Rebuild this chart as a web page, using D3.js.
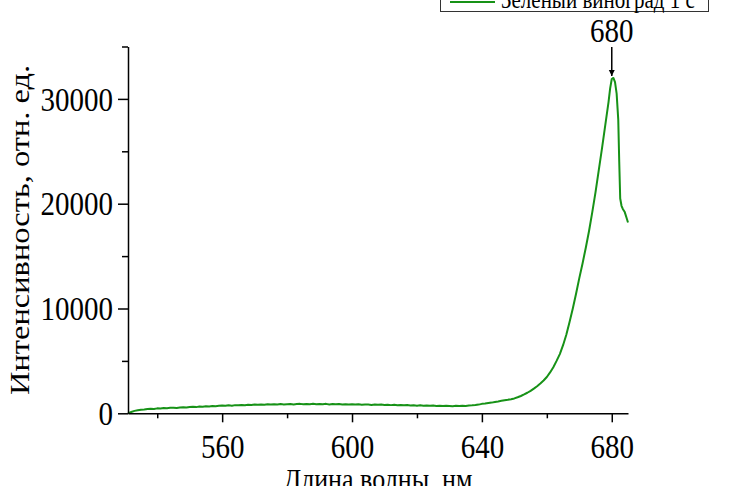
<!DOCTYPE html>
<html>
<head>
<meta charset="utf-8">
<script src="https://cdn.jsdelivr.net/npm/d3@7"></script>
<style>
  body { margin: 0; background: #fff; }
  svg { display: block; }
  svg text { font-family: "Liberation Serif", "Times New Roman", serif; }
</style>
</head>
<body>
<div id="chart"></div>
<script>
// spectrum values
const wavelength = [
  531, 532, 533, 534, 535, 536, 537, 538, 539, 540, 541, 542, 543, 544, 545, 546, 547, 548, 549, 550,
  551, 552, 553, 554, 555, 556, 557, 558, 559, 560, 561, 562, 563, 564, 565, 566, 567, 568, 569, 570,
  571, 572, 573, 574, 575, 576, 577, 578, 579, 580, 581, 582, 583, 584, 585, 586, 587, 588, 589, 590,
  591, 592, 593, 594, 595, 596, 597, 598, 599, 600, 601, 602, 603, 604, 605, 606, 607, 608, 609, 610,
  611, 612, 613, 614, 615, 616, 617, 618, 619, 620, 621, 622, 623, 624, 625, 626, 627, 628, 629, 630,
  631, 632, 633, 634, 635, 636, 637, 638, 639, 640, 641, 642, 643, 644, 645, 646, 647, 648, 649, 650,
  651, 652, 653, 654, 655, 656, 657, 658, 659, 660, 661, 662, 663, 664, 665, 666, 667, 668, 669, 670,
  671, 672, 673, 674, 675, 676, 677, 678, 679, 679.5, 680, 680.5, 681, 681.5, 682, 682.3, 682.6, 683,
  683.4, 684, 684.5, 685
];
const intensity = [
  0, 130, 230, 290, 330, 360, 410, 430, 420, 470, 460, 500, 480, 520, 540, 510, 560, 580, 550, 600,
  620, 590, 640, 620, 670, 650, 700, 680, 720, 740, 710, 760, 730, 780, 760, 800, 770, 820, 790, 830,
  810, 850, 820, 860, 830, 870, 840, 880, 850, 870, 890, 850, 880, 900, 860, 890, 870, 910, 860, 890,
  870, 900, 850, 880, 860, 890, 840, 870, 850, 860, 830, 860, 820, 850, 830, 800, 840, 810, 830, 790,
  820, 780, 810, 770, 800, 760, 790, 750, 770, 730, 760, 720, 750, 710, 740, 700, 730, 690, 720, 700,
  680, 710, 690, 720, 700, 740, 760, 790, 830, 900, 930, 980, 1020, 1080, 1130, 1190, 1240, 1290, 1350, 1420,
  1530, 1650, 1800, 1960, 2140, 2350, 2580, 2840, 3130, 3460, 3900, 4400, 5000, 5650, 6500, 7500, 8700, 10000, 11400, 12900,
  14300, 15800, 17400, 19200, 21100, 23200, 25300, 27500, 29700, 31000, 31900, 32000, 31600, 30500, 28000, 24000, 20500, 19800,
  19500, 19200, 18700, 18200
];
const seriesName = "Зеленый виноград 1 с";
const xMajorTicks = [560, 600, 640, 680];
const xMinorTicks = [540, 580, 620, 660];
const yMajorTicks = [0, 10000, 20000, 30000];
const yMinorTicks = [5000, 15000, 25000, 35000];
const peakLabel = "680";
const peakAt = [680, 32000];
const xTitle = "Длина волны, нм";
const yTitle = "Интенсивность, отн. ед.";

const width = 730, height = 486;
const margin = {top: 46.5, right: 102, bottom: 72.7, left: 128};
const stretch = 1.16; // the picture's text is a bit taller than wide
const green = "#179217";
const serif = '"Liberation Serif", "Times New Roman", serif';

const svg = d3.select("#chart").append("svg")
  .attr("width", width)
  .attr("height", height)
  .attr("viewBox", [0, 0, width, height]);

const x = d3.scaleLinear().domain([531, 685]).range([margin.left, width - margin.right]);
const y = d3.scaleLinear().domain([0, 35000]).range([height - margin.bottom, margin.top]);

const data = wavelength.map((w, i) => ({w, v: intensity[i]}));

// spectrum
svg.append("path")
  .datum(data)
  .attr("fill", "none")
  .attr("stroke", green)
  .attr("stroke-width", 2)
  .attr("stroke-linejoin", "round")
  .attr("d", d3.line().x(d => x(d.w)).y(d => y(d.v)));

// x axis
const xAxis = svg.append("g")
  .attr("transform", `translate(0,${y(0)})`)
  .call(d3.axisBottom(x).tickValues(xMajorTicks).tickSize(9).tickSizeOuter(0).tickFormat(d3.format("d")));
svg.append("g")
  .attr("transform", `translate(0,${y(0)})`)
  .call(d3.axisBottom(x).tickValues(xMinorTicks).tickSize(5).tickFormat(""))
  .call(g => g.select(".domain").remove());

// y axis
const yAxis = svg.append("g")
  .attr("transform", `translate(${x(531)},0)`)
  .call(d3.axisLeft(y).tickValues(yMajorTicks).tickSize(10).tickSizeOuter(0).tickFormat(d3.format("d")));
svg.append("g")
  .attr("transform", `translate(${x(531)},0)`)
  .call(d3.axisLeft(y).tickValues(yMinorTicks).tickSize(6).tickFormat(""))
  .call(g => g.select(".domain").remove());

svg.selectAll("g").attr("font-family", serif);
svg.selectAll(".domain, .tick line").attr("stroke", "#000").attr("stroke-width", 1.5);
svg.selectAll(".tick text").attr("fill", "#000").attr("font-size", 29);

xAxis.selectAll(".tick text")
  .attr("y", 38.5)
  .attr("dy", 0)
  .attr("transform", `scale(1,${stretch})`);
yAxis.selectAll(".tick text")
  .attr("x", -15)
  .attr("dy", "0.33em")
  .attr("transform", `scale(1,${stretch})`);

// axis titles
svg.append("text")
  .attr("transform", `translate(${(margin.left + width - margin.right) / 2},489) scale(1,${stretch})`)
  .attr("text-anchor", "middle")
  .attr("font-size", 26)
  .text(xTitle);

svg.append("text")
  .attr("transform", `translate(29,${(margin.top + height - margin.bottom) / 2}) rotate(-90) scale(${stretch},1)`)
  .attr("text-anchor", "middle")
  .attr("font-size", 28)
  .text(yTitle);

// peak annotation
const px = x(peakAt[0]), py = y(peakAt[1]);
svg.append("defs").append("marker")
  .attr("id", "head")
  .attr("viewBox", "0 0 10 10")
  .attr("refX", 10).attr("refY", 5)
  .attr("markerWidth", 4).attr("markerHeight", 5)
  .attr("markerUnits", "strokeWidth")
  .attr("orient", "auto")
  .append("path").attr("d", "M0,0L10,5L0,10Z").attr("fill", "#000");
svg.append("line")
  .attr("x1", px).attr("x2", px)
  .attr("y1", 47).attr("y2", py - 2)
  .attr("stroke", "#000").attr("stroke-width", 1.5)
  .attr("marker-end", "url(#head)");
svg.append("text")
  .attr("transform", `translate(${px},42) scale(1,${stretch})`)
  .attr("text-anchor", "middle")
  .attr("font-size", 29)
  .text(peakLabel);

// legend (cut off at top edge)
const legend = svg.append("g");
legend.append("rect")
  .attr("x", 440.5).attr("y", -20)
  .attr("width", 268).attr("height", 31.5)
  .attr("fill", "#fff").attr("stroke", "#333").attr("stroke-width", 1);
legend.append("line")
  .attr("x1", 450).attr("x2", 495).attr("y1", 2).attr("y2", 2)
  .attr("stroke", green).attr("stroke-width", 2);
legend.append("text")
  .attr("transform", `translate(501,8) scale(1,${stretch})`)
  .attr("font-size", 21)
  .text(seriesName);
</script>
</body>
</html>
